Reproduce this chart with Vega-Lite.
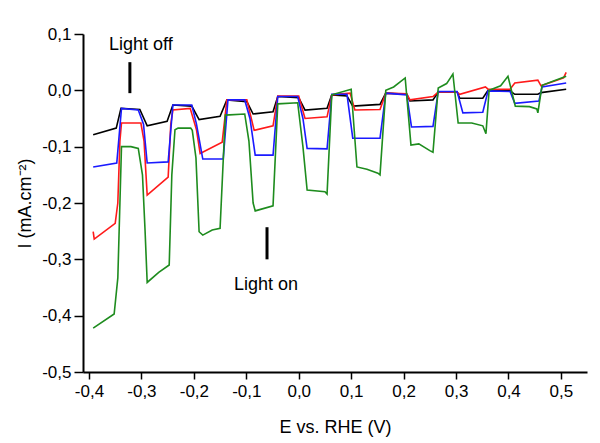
{
  "$schema": "https://vega.github.io/schema/vega-lite/v6.json",
  "width": 504,
  "height": 338,
  "autosize": "none",
  "padding": {"left": 83, "top": 34, "right": 13, "bottom": 71},
  "background": "white",
  "config": {
    "view": {"stroke": null},
    "font": "Liberation Sans"
  },
  "datasets": {
    "curves": [
      {"s":"k","o":1,"x":-0.392,"y":-0.079},{"s":"k","o":2,"x":-0.348,"y":-0.067},{"s":"k","o":3,"x":-0.339,"y":-0.032},{"s":"k","o":4,"x":-0.303,"y":-0.034},{"s":"k","o":5,"x":-0.289,"y":-0.063},{"s":"k","o":6,"x":-0.251,"y":-0.055},{"s":"k","o":7,"x":-0.240,"y":-0.026},{"s":"k","o":8,"x":-0.204,"y":-0.028},{"s":"k","o":9,"x":-0.190,"y":-0.052},{"s":"k","o":10,"x":-0.150,"y":-0.046},{"s":"k","o":11,"x":-0.137,"y":-0.017},{"s":"k","o":12,"x":-0.099,"y":-0.020},{"s":"k","o":13,"x":-0.087,"y":-0.042},{"s":"k","o":14,"x":-0.049,"y":-0.038},{"s":"k","o":15,"x":-0.040,"y":-0.011},{"s":"k","o":16,"x":0.000,"y":-0.013},{"s":"k","o":17,"x":0.012,"y":-0.035},{"s":"k","o":18,"x":0.054,"y":-0.032},{"s":"k","o":19,"x":0.063,"y":-0.008},{"s":"k","o":20,"x":0.092,"y":-0.010},{"s":"k","o":21,"x":0.103,"y":-0.028},{"s":"k","o":22,"x":0.155,"y":-0.025},{"s":"k","o":23,"x":0.166,"y":-0.005},{"s":"k","o":24,"x":0.206,"y":-0.007},{"s":"k","o":25,"x":0.212,"y":-0.019},{"s":"k","o":26,"x":0.256,"y":-0.017},{"s":"k","o":27,"x":0.266,"y":-0.003},{"s":"k","o":28,"x":0.302,"y":-0.003},{"s":"k","o":29,"x":0.307,"y":-0.014},{"s":"k","o":30,"x":0.351,"y":-0.014},{"s":"k","o":31,"x":0.361,"y":0.000},{"s":"k","o":32,"x":0.403,"y":-0.001},{"s":"k","o":33,"x":0.412,"y":-0.007},{"s":"k","o":34,"x":0.456,"y":-0.007},{"s":"k","o":35,"x":0.462,"y":-0.004},{"s":"k","o":36,"x":0.510,"y":0.002},

      {"s":"r","o":1,"x":-0.392,"y":-0.251},{"s":"r","o":2,"x":-0.390,"y":-0.264},{"s":"r","o":3,"x":-0.350,"y":-0.236},{"s":"r","o":4,"x":-0.345,"y":-0.200},{"s":"r","o":5,"x":-0.341,"y":-0.090},{"s":"r","o":6,"x":-0.338,"y":-0.058},{"s":"r","o":7,"x":-0.301,"y":-0.058},{"s":"r","o":8,"x":-0.295,"y":-0.090},{"s":"r","o":9,"x":-0.289,"y":-0.186},{"s":"r","o":10,"x":-0.249,"y":-0.154},{"s":"r","o":11,"x":-0.244,"y":-0.060},{"s":"r","o":12,"x":-0.240,"y":-0.035},{"s":"r","o":13,"x":-0.207,"y":-0.032},{"s":"r","o":14,"x":-0.195,"y":-0.070},{"s":"r","o":15,"x":-0.188,"y":-0.112},{"s":"r","o":16,"x":-0.146,"y":-0.092},{"s":"r","o":17,"x":-0.137,"y":-0.017},{"s":"r","o":18,"x":-0.099,"y":-0.017},{"s":"r","o":19,"x":-0.085,"y":-0.071},{"s":"r","o":20,"x":-0.049,"y":-0.063},{"s":"r","o":21,"x":-0.040,"y":-0.010},{"s":"r","o":22,"x":0.000,"y":-0.010},{"s":"r","o":23,"x":0.012,"y":-0.050},{"s":"r","o":24,"x":0.054,"y":-0.047},{"s":"r","o":25,"x":0.063,"y":-0.008},{"s":"r","o":26,"x":0.098,"y":-0.005},{"s":"r","o":27,"x":0.107,"y":-0.035},{"s":"r","o":28,"x":0.155,"y":-0.034},{"s":"r","o":29,"x":0.166,"y":-0.005},{"s":"r","o":30,"x":0.206,"y":-0.006},{"s":"r","o":31,"x":0.212,"y":-0.017},{"s":"r","o":32,"x":0.256,"y":-0.011},{"s":"r","o":33,"x":0.266,"y":-0.003},{"s":"r","o":34,"x":0.302,"y":-0.003},{"s":"r","o":35,"x":0.307,"y":-0.007},{"s":"r","o":36,"x":0.356,"y":0.006},{"s":"r","o":37,"x":0.361,"y":0.002},{"s":"r","o":38,"x":0.403,"y":0.002},{"s":"r","o":39,"x":0.412,"y":0.013},{"s":"r","o":40,"x":0.456,"y":0.018},{"s":"r","o":41,"x":0.462,"y":0.008},{"s":"r","o":42,"x":0.505,"y":0.022},{"s":"r","o":43,"x":0.510,"y":0.032},

      {"s":"b","o":1,"x":-0.392,"y":-0.136},{"s":"b","o":2,"x":-0.347,"y":-0.129},{"s":"b","o":3,"x":-0.338,"y":-0.032},{"s":"b","o":4,"x":-0.306,"y":-0.035},{"s":"b","o":5,"x":-0.296,"y":-0.060},{"s":"b","o":6,"x":-0.289,"y":-0.129},{"s":"b","o":7,"x":-0.249,"y":-0.127},{"s":"b","o":8,"x":-0.240,"y":-0.026},{"s":"b","o":9,"x":-0.204,"y":-0.026},{"s":"b","o":10,"x":-0.195,"y":-0.060},{"s":"b","o":11,"x":-0.183,"y":-0.122},{"s":"b","o":12,"x":-0.144,"y":-0.122},{"s":"b","o":13,"x":-0.135,"y":-0.017},{"s":"b","o":14,"x":-0.103,"y":-0.017},{"s":"b","o":15,"x":-0.093,"y":-0.050},{"s":"b","o":16,"x":-0.083,"y":-0.115},{"s":"b","o":17,"x":-0.049,"y":-0.115},{"s":"b","o":18,"x":-0.040,"y":-0.011},{"s":"b","o":19,"x":-0.002,"y":-0.011},{"s":"b","o":20,"x":0.008,"y":-0.050},{"s":"b","o":21,"x":0.016,"y":-0.103},{"s":"b","o":22,"x":0.054,"y":-0.104},{"s":"b","o":23,"x":0.063,"y":-0.007},{"s":"b","o":24,"x":0.092,"y":-0.007},{"s":"b","o":25,"x":0.103,"y":-0.085},{"s":"b","o":26,"x":0.155,"y":-0.085},{"s":"b","o":27,"x":0.166,"y":-0.005},{"s":"b","o":28,"x":0.206,"y":-0.008},{"s":"b","o":29,"x":0.215,"y":-0.065},{"s":"b","o":30,"x":0.256,"y":-0.064},{"s":"b","o":31,"x":0.266,"y":-0.002},{"s":"b","o":32,"x":0.302,"y":-0.002},{"s":"b","o":33,"x":0.313,"y":-0.040},{"s":"b","o":34,"x":0.351,"y":-0.039},{"s":"b","o":35,"x":0.361,"y":-0.001},{"s":"b","o":36,"x":0.403,"y":-0.002},{"s":"b","o":37,"x":0.412,"y":-0.023},{"s":"b","o":38,"x":0.458,"y":-0.019},{"s":"b","o":39,"x":0.464,"y":0.006},{"s":"b","o":40,"x":0.510,"y":0.013},

      {"s":"g","o":1,"x":-0.392,"y":-0.422},{"s":"g","o":2,"x":-0.352,"y":-0.397},{"s":"g","o":3,"x":-0.345,"y":-0.333},{"s":"g","o":4,"x":-0.341,"y":-0.200},{"s":"g","o":5,"x":-0.338,"y":-0.100},{"s":"g","o":6,"x":-0.320,"y":-0.100},{"s":"g","o":7,"x":-0.306,"y":-0.103},{"s":"g","o":8,"x":-0.298,"y":-0.150},{"s":"g","o":9,"x":-0.293,"y":-0.250},{"s":"g","o":10,"x":-0.289,"y":-0.341},{"s":"g","o":11,"x":-0.267,"y":-0.323},{"s":"g","o":12,"x":-0.247,"y":-0.310},{"s":"g","o":13,"x":-0.242,"y":-0.150},{"s":"g","o":14,"x":-0.236,"y":-0.070},{"s":"g","o":15,"x":-0.230,"y":-0.067},{"s":"g","o":16,"x":-0.206,"y":-0.067},{"s":"g","o":17,"x":-0.203,"y":-0.071},{"s":"g","o":18,"x":-0.196,"y":-0.120},{"s":"g","o":19,"x":-0.190,"y":-0.251},{"s":"g","o":20,"x":-0.183,"y":-0.257},{"s":"g","o":21,"x":-0.165,"y":-0.248},{"s":"g","o":22,"x":-0.150,"y":-0.245},{"s":"g","o":23,"x":-0.140,"y":-0.044},{"s":"g","o":24,"x":-0.103,"y":-0.042},{"s":"g","o":25,"x":-0.095,"y":-0.090},{"s":"g","o":26,"x":-0.087,"y":-0.200},{"s":"g","o":27,"x":-0.083,"y":-0.214},{"s":"g","o":28,"x":-0.049,"y":-0.205},{"s":"g","o":29,"x":-0.040,"y":-0.024},{"s":"g","o":30,"x":-0.002,"y":-0.022},{"s":"g","o":31,"x":0.008,"y":-0.100},{"s":"g","o":32,"x":0.016,"y":-0.177},{"s":"g","o":33,"x":0.050,"y":-0.180},{"s":"g","o":34,"x":0.054,"y":-0.184},{"s":"g","o":35,"x":0.063,"y":-0.008},{"s":"g","o":36,"x":0.100,"y":0.002},{"s":"g","o":37,"x":0.111,"y":-0.136},{"s":"g","o":38,"x":0.130,"y":-0.140},{"s":"g","o":39,"x":0.151,"y":-0.147},{"s":"g","o":40,"x":0.155,"y":-0.150},{"s":"g","o":41,"x":0.166,"y":0.000},{"s":"g","o":42,"x":0.181,"y":0.006},{"s":"g","o":43,"x":0.203,"y":0.022},{"s":"g","o":44,"x":0.214,"y":-0.097},{"s":"g","o":45,"x":0.229,"y":-0.095},{"s":"g","o":46,"x":0.250,"y":-0.107},{"s":"g","o":47,"x":0.256,"y":-0.110},{"s":"g","o":48,"x":0.266,"y":0.004},{"s":"g","o":49,"x":0.282,"y":0.012},{"s":"g","o":50,"x":0.294,"y":0.029},{"s":"g","o":51,"x":0.304,"y":-0.058},{"s":"g","o":52,"x":0.330,"y":-0.058},{"s":"g","o":53,"x":0.351,"y":-0.063},{"s":"g","o":54,"x":0.357,"y":-0.077},{"s":"g","o":55,"x":0.363,"y":0.000},{"s":"g","o":56,"x":0.385,"y":0.008},{"s":"g","o":57,"x":0.399,"y":0.025},{"s":"g","o":58,"x":0.413,"y":-0.028},{"s":"g","o":59,"x":0.440,"y":-0.029},{"s":"g","o":60,"x":0.454,"y":-0.033},{"s":"g","o":61,"x":0.456,"y":-0.040},{"s":"g","o":62,"x":0.464,"y":0.009},{"s":"g","o":63,"x":0.510,"y":0.025}
    ],
    "labels": [
      {"t":"Light off","x":-0.301,"y":0.08},
      {"t":"Light on","x":-0.0625,"y":-0.346}
    ],
    "bars": [
      {"x":-0.322,"y":0.05,"y2":-0.005},
      {"x":-0.0605,"y":-0.243,"y2":-0.300}
    ]
  },
  "layer": [
    {
      "data": {"name": "curves"},
      "mark": {"type": "line", "strokeWidth": 1.6, "clip": true},
      "encoding": {
        "x": {
          "field": "x", "type": "quantitative",
          "scale": {"domain": [-0.4114, 0.5497], "nice": false, "zero": false},
          "axis": {
            "title": "E vs. RHE (V)",
            "values": [-0.4,-0.35,-0.3,-0.25,-0.2,-0.15,-0.1,-0.05,0,0.05,0.1,0.15,0.2,0.25,0.3,0.35,0.4,0.45,0.5,0.55],
            "labelExpr": "abs(datum.value*10 - round(datum.value*10)) < 0.001 ? replace((datum.value < -0.001 ? '-' : '') + format(abs(datum.value), '.1f'), '.', ',') : ''",
            "tickSize": {"condition": {"test": "abs(datum.value*10 - round(datum.value*10)) < 0.001", "value": 7}, "value": 4},
            "grid": false,
            "domainColor": "#000000", "domainWidth": 2,
            "tickColor": "#000000", "tickWidth": 1.5,
            "labelColor": "#000000", "labelFontSize": 17, "labelFont": "Liberation Sans",
            "labelPadding": 4, "labelFlush": false, "labelOverlap": false,
            "titleColor": "#000000", "titleFontSize": 18, "titleFontWeight": "normal", "titleFont": "Liberation Sans",
            "titleX": 252, "titleY": 55, "titleBaseline": "middle", "titleAlign": "center"
          }
        },
        "y": {
          "field": "y", "type": "quantitative",
          "scale": {"domain": [-0.5, 0.1], "nice": false, "zero": false},
          "axis": {
            "title": "I (mA.cm⁻²)",
            "values": [-0.5,-0.45,-0.4,-0.35,-0.3,-0.25,-0.2,-0.15,-0.1,-0.05,0,0.05,0.1],
            "labelExpr": "abs(datum.value*10 - round(datum.value*10)) < 0.001 ? replace((datum.value < -0.001 ? '-' : '') + format(abs(datum.value), '.1f'), '.', ',') : ''",
            "tickSize": {"condition": {"test": "abs(datum.value*10 - round(datum.value*10)) < 0.001", "value": 9}, "value": 5},
            "grid": false,
            "domainColor": "#000000", "domainWidth": 2,
            "tickColor": "#000000", "tickWidth": 1.5,
            "labelColor": "#000000", "labelFontSize": 17, "labelFont": "Liberation Sans",
            "labelPadding": 3, "labelFlush": false, "labelOverlap": false,
            "titleColor": "#000000", "titleFontSize": 18, "titleFontWeight": "normal", "titleFont": "Liberation Sans",
            "titleX": -58, "titleY": 169, "titleBaseline": "middle", "titleAlign": "center", "titleAngle": -90
          }
        },
        "color": {
          "field": "s", "type": "nominal", "legend": null,
          "scale": {"domain": ["k","r","b","g"], "range": ["#000000","#ff1a1a","#1a1aff","#1e8c1e"]}
        },
        "order": {"field": "o", "type": "quantitative"}
      }
    },
    {
      "data": {"name": "bars"},
      "mark": {"type": "rule", "strokeWidth": 3, "color": "#000000"},
      "encoding": {
        "x": {"field": "x", "type": "quantitative"},
        "y": {"field": "y", "type": "quantitative"},
        "y2": {"field": "y2"}
      }
    },
    {
      "data": {"name": "labels"},
      "mark": {"type": "text", "fontSize": 18, "font": "Liberation Sans", "color": "#000000", "align": "center", "baseline": "middle"},
      "encoding": {
        "x": {"field": "x", "type": "quantitative"},
        "y": {"field": "y", "type": "quantitative"},
        "text": {"field": "t"}
      }
    }
  ]
}
